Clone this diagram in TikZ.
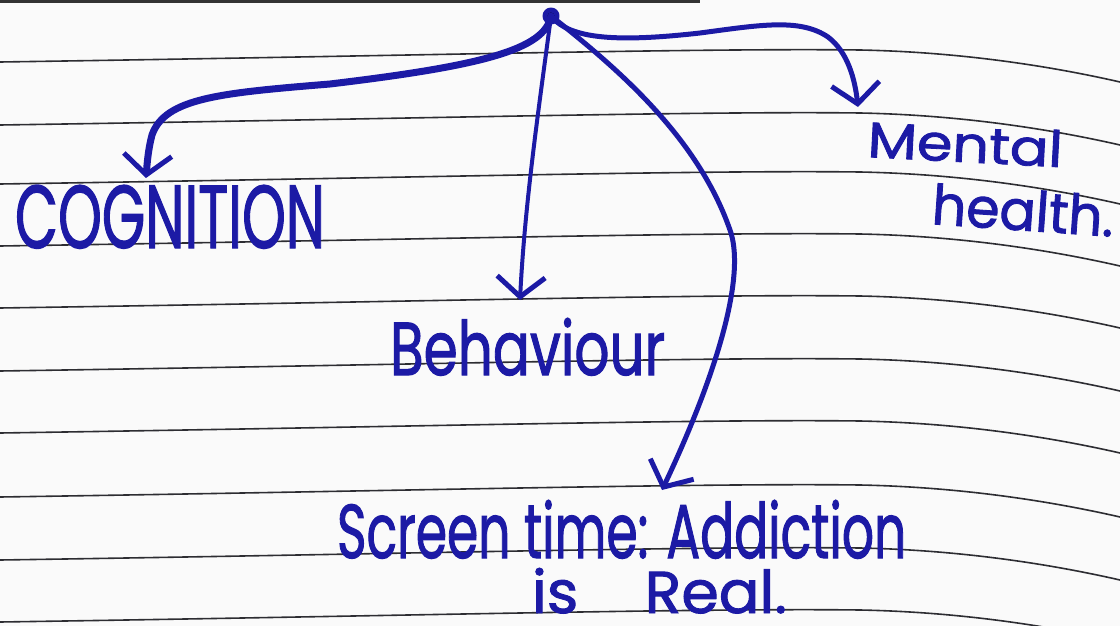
\documentclass[tikz,border=0pt]{standalone}
\usepackage{fontspec}
\setmainfont{Poppins}
\newfontfamily\hand{Poppins}[FakeBold=1.6]
\usepackage{graphicx}
\usetikzlibrary{arrows.meta}
\definecolor{ink}{RGB}{28,26,165}
\definecolor{rulecol}{RGB}{45,45,50}
\definecolor{paper}{RGB}{250,250,250}
\tikzset{
  ink/.style={draw=ink, line width=5pt, line cap=round, line join=round,
    -{Straight Barb[length=20pt,width=48pt,line width=5pt]}},
  ruled/.style={draw=rulecol, line width=1.6pt},
  lbl/.style={inner sep=0pt, outer sep=0pt, text=ink, font=\hand},
}
\begin{document}
\begin{tikzpicture}[x=1pt,y=-1pt]
\useasboundingbox (0,0) rectangle (1120,626);
\fill[paper] (0,0) rectangle (1120,626);
% page edge
\draw[black!80, line width=3pt] (0,1.5) -- (700,1.5);
% ruled lines
\foreach \y in {62,125,184,246,308,371,433,497,560,622}{
  \draw[ruled] (0,\y) .. controls (400,\y-6) and (700,\y-14) .. (860,\y-12)
     .. controls (960,\y-10) and (1050,\y+4) .. (1120,\y+20);
}
% root
\coordinate (root) at (551,16);
\fill[ink] (root) circle (6pt);
% tips
\coordinate (tcog) at (146,178);
\coordinate (tbeh) at (520,300);
\coordinate (tmen) at (858,107);
\coordinate (tscr) at (662,490);
% labels
\node[lbl, anchor=base west] (cog) at (15,248) {\resizebox{310pt}{63pt}{COGNITION}};
\node[lbl, anchor=base west] (beh) at (390,375) {\resizebox{275pt}{57pt}{Behaviour}};
\node[lbl, anchor=base west, rotate=-3] (men1) at (867,157) {\resizebox{195pt}{37pt}{Mental}};
\node[lbl, anchor=base west, rotate=-4] (men2) at (931,224) {\resizebox{182pt}{41pt}{health.}};
\node[lbl, anchor=base west] (scr1) at (337,558) {\resizebox{569pt}{58pt}{Screen time: Addiction}};
\node[lbl, anchor=base west] (scr2) at (532,613) {\resizebox{255pt}{45pt}{is\hspace{1.1em}Real.}};
% connectors
\draw[ink, line width=7pt] (root) .. controls (545,50) and (480,66) .. (330,84)
   .. controls (220,93) and (165,98) .. (152,135)
   .. controls (148,150) and (147,165) .. (tcog);
\draw[ink, line width=4pt] (root) .. controls (540,100) and (525,200) .. (tbeh);
\draw[ink] (root) .. controls (570,40) and (620,42) .. (700,33)
   .. controls (760,25) and (800,18) .. (828,37)
   .. controls (848,52) and (855,80) .. (tmen);
\draw[ink] (root) .. controls (620,70) and (700,140) .. (731,233)
   .. controls (748,290) and (700,410) .. (tscr);
\end{tikzpicture}
\end{document}
